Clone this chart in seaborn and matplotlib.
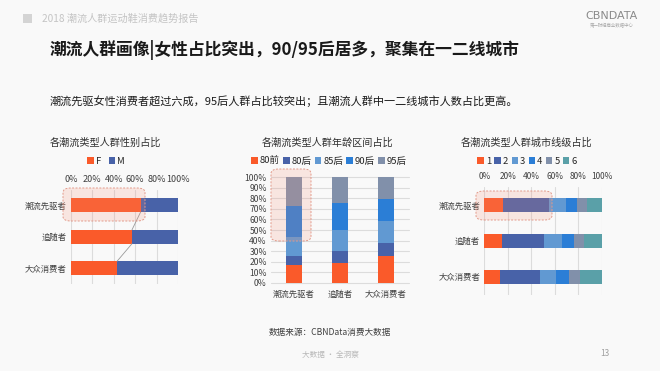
import matplotlib
matplotlib.use('Agg')
import matplotlib.pyplot as plt
from matplotlib.patches import FancyBboxPatch, Rectangle, Patch
import numpy as np
import seaborn as sns

# ---- data ----
groups = ['潮流先驱者', '追随者', '大众消费者']

gender_labels = ['F', 'M']
female = [0.65, 0.57, 0.43]
male = [0.35, 0.43, 0.57]

age_labels = ['80前', '80后', '85后', '90后', '95后']
age_80before = [0.17, 0.19, 0.25]
age_80s = [0.08, 0.11, 0.13]
age_85s = [0.18, 0.20, 0.21]
age_90s = [0.30, 0.26, 0.20]
age_95s = [0.27, 0.24, 0.21]

city_labels = ['1', '2', '3', '4', '5', '6']
tier1 = [0.16, 0.15, 0.13]
tier2 = [0.39, 0.36, 0.34]
tier3 = [0.14, 0.15, 0.14]
tier4 = [0.10, 0.10, 0.11]
tier5 = [0.08, 0.09, 0.09]
tier6 = [0.13, 0.15, 0.19]

ORANGE = '#FA5A2A'
DARK = '#4862A8'
LIGHT = '#6199D2'
BLUE = '#2B7ED6'
GRAY = '#8190AA'
TEAL = '#5AA0A8'
GRID = '#DCDCDC'
BG = '#F9F9F9'

sns.set_style('white')
plt.rcParams['font.family'] = ['Noto Sans CJK SC', 'DejaVu Sans']

W, H = 660, 371
fig = plt.figure(figsize=(W / 100, H / 100), dpi=100, facecolor=BG)


def fx(x):
    return x / W


def fy(y):
    return 1 - y / H


def add_axes(left, top, right, bottom):
    ax = fig.add_axes([fx(left), fy(bottom), fx(right - left), (bottom - top) / H])
    ax.set_facecolor('none')
    for s in ax.spines.values():
        s.set_visible(False)
    return ax


def stacked(ax, parts, colors, horizontal, width):
    cum = np.cumsum(np.array(parts), axis=0)
    for i in range(len(parts) - 1, -1, -1):
        if horizontal:
            sns.barplot(x=cum[i], y=groups, orient='h', color=colors[i], width=width,
                        linewidth=0, saturation=1, ax=ax, zorder=2)
        else:
            sns.barplot(x=groups, y=cum[i], color=colors[i], width=width,
                        linewidth=0, saturation=1, ax=ax, zorder=2)


def highlight(x0, y0, x1, y1):
    p = FancyBboxPatch((fx(x0), fy(y1)), fx(x1 - x0), (y1 - y0) / H,
                       boxstyle='round,pad=0,rounding_size=0.012',
                       transform=fig.transFigure, facecolor=(0.96, 0.55, 0.45, 0.18),
                       edgecolor='#E39A8A', linestyle=(0, (2, 1.5)), linewidth=0.7, zorder=5)
    fig.patches.append(p)


def legend(labels, colors, cx, cy, spacing):
    handles = [Patch(facecolor=c, edgecolor='none') for c in colors]
    fig.legend(handles, labels, loc='center', bbox_to_anchor=(fx(cx), fy(cy)),
               ncol=len(labels), frameon=False, fontsize=6.8, handlelength=0.7,
               handleheight=0.7, handletextpad=0.2, columnspacing=spacing, borderpad=0)


pct_fmt = matplotlib.ticker.FuncFormatter(lambda v, _: f'{v * 100:.0f}%')

# ---- header ----
fig.patches.append(Rectangle((fx(23), fy(23)), fx(9), 9 / H, transform=fig.transFigure,
                             facecolor='#D4D4D4', edgecolor='none'))
fig.text(fx(42), fy(19), '2018 潮流人群运动鞋消费趋势报告', fontsize=7.3, color='#C4C4C4',
         va='center', ha='left')
fig.text(fx(612), fy(16), 'CBNDATA', fontsize=8, color='#8A8A8A', va='center', ha='center',
         family=['DejaVu Sans'])
fig.text(fx(612), fy(26), '第一财经商业数据中心', fontsize=3.2, color='#A8A8A8',
         va='center', ha='center')

fig.text(fx(50), fy(50), '潮流人群画像|女性占比突出，90/95后居多，聚集在一二线城市',
         fontsize=12.1, color='#1A1A1A', va='center', ha='left', fontweight='bold')
fig.text(fx(50), fy(101), '潮流先驱女性消费者超过六成，95后人群占比较突出；且潮流人群中一二线城市人数占比更高。',
         fontsize=8.0, color='#1A1A1A', va='center', ha='left')

# ---- chart 1: gender ----
ax1 = add_axes(71, 189.5, 178, 284)
stacked(ax1, [female, male], [ORANGE, DARK], True, 0.44)
ax1.set_xlim(0, 1)
ax1.set_ylim(2.5, -0.5)
ax1.xaxis.tick_top()
ax1.set_xticks(np.linspace(0, 1, 6))
ax1.xaxis.set_major_formatter(pct_fmt)
ax1.grid(axis='x', color=GRID, linewidth=0.8, zorder=0)
ax1.set_axisbelow(True)
ax1.tick_params(axis='both', length=0, labelsize=6.5, colors='#404040', pad=4)
ax1.tick_params(axis='y', labelsize=6, pad=3)
ax1.set_xlabel('')
ax1.set_ylabel('')
for i in range(len(groups) - 1):
    ax1.plot([female[i], female[i + 1]], [i + 0.22, i + 1 - 0.22], color='#9A9A9A',
             linewidth=0.6, zorder=3)
fig.text(fx(105), fy(143), '各潮流类型人群性别占比', fontsize=7.3, color='#303030',
         ha='center', va='center')
legend(gender_labels, [ORANGE, DARK], 106, 161, 0.8)
highlight(63, 188, 145, 221)

# ---- chart 2: age ----
ax2 = add_axes(271, 177.3, 409, 282.7)
stacked(ax2, [age_80before, age_80s, age_85s, age_90s, age_95s],
        [ORANGE, DARK, LIGHT, BLUE, GRAY], False, 0.36)
ax2.set_xlim(-0.5, 2.5)
ax2.set_ylim(0, 1)
ax2.set_yticks(np.linspace(0, 1, 11))
ax2.yaxis.set_major_formatter(pct_fmt)
ax2.grid(axis='y', color=GRID, linewidth=0.8, zorder=0)
for gl in ax2.get_ygridlines():
    gl.set_clip_on(False)
ax2.set_axisbelow(True)
ax2.tick_params(axis='both', length=0, labelsize=6.2, colors='#404040')
ax2.tick_params(axis='y', pad=3)
ax2.tick_params(axis='x', labelsize=6, pad=5)
ax2.set_xlabel('')
ax2.set_ylabel('')
fig.text(fx(328), fy(143), '各潮流类型人群年龄区间占比', fontsize=7.3, color='#303030',
         ha='center', va='center')
legend(age_labels, [ORANGE, DARK, LIGHT, BLUE, GRAY], 329, 161, 0.35)
highlight(271, 169, 311, 241)

# ---- chart 3: city tier ----
ax3 = add_axes(484.3, 187, 602, 294.5)
stacked(ax3, [tier1, tier2, tier3, tier4, tier5, tier6],
        [ORANGE, DARK, LIGHT, BLUE, GRAY, TEAL], True, 0.39)
ax3.set_xlim(0, 1)
ax3.set_ylim(2.5, -0.5)
ax3.xaxis.tick_top()
ax3.set_xticks(np.linspace(0, 1, 6))
ax3.xaxis.set_major_formatter(pct_fmt)
ax3.grid(axis='x', color=GRID, linewidth=0.8, zorder=0)
ax3.set_axisbelow(True)
ax3.tick_params(axis='both', length=0, labelsize=6, colors='#404040', pad=4)
ax3.tick_params(axis='y', labelsize=6, pad=3)
ax3.set_xlabel('')
ax3.set_ylabel('')
fig.text(fx(527), fy(143), '各潮流类型人群城市线级占比', fontsize=7.3, color='#303030',
         ha='center', va='center')
legend(city_labels, [ORANGE, DARK, LIGHT, BLUE, GRAY, TEAL], 527, 161, 0.35)
highlight(476, 191, 552, 220)

# ---- footer ----
fig.text(fx(330), fy(333), '数据来源：CBNData消费大数据', fontsize=6.2, color='#404040',
         ha='center', va='center')
fig.text(fx(330), fy(355), '大数据 · 全洞察', fontsize=5.5, color='#B8B8B8',
         ha='center', va='center')
fig.text(fx(605), fy(354), '13', fontsize=6, color='#A0A0A0', ha='center', va='center')

fig.savefig('out.png', dpi=100, facecolor=BG)
